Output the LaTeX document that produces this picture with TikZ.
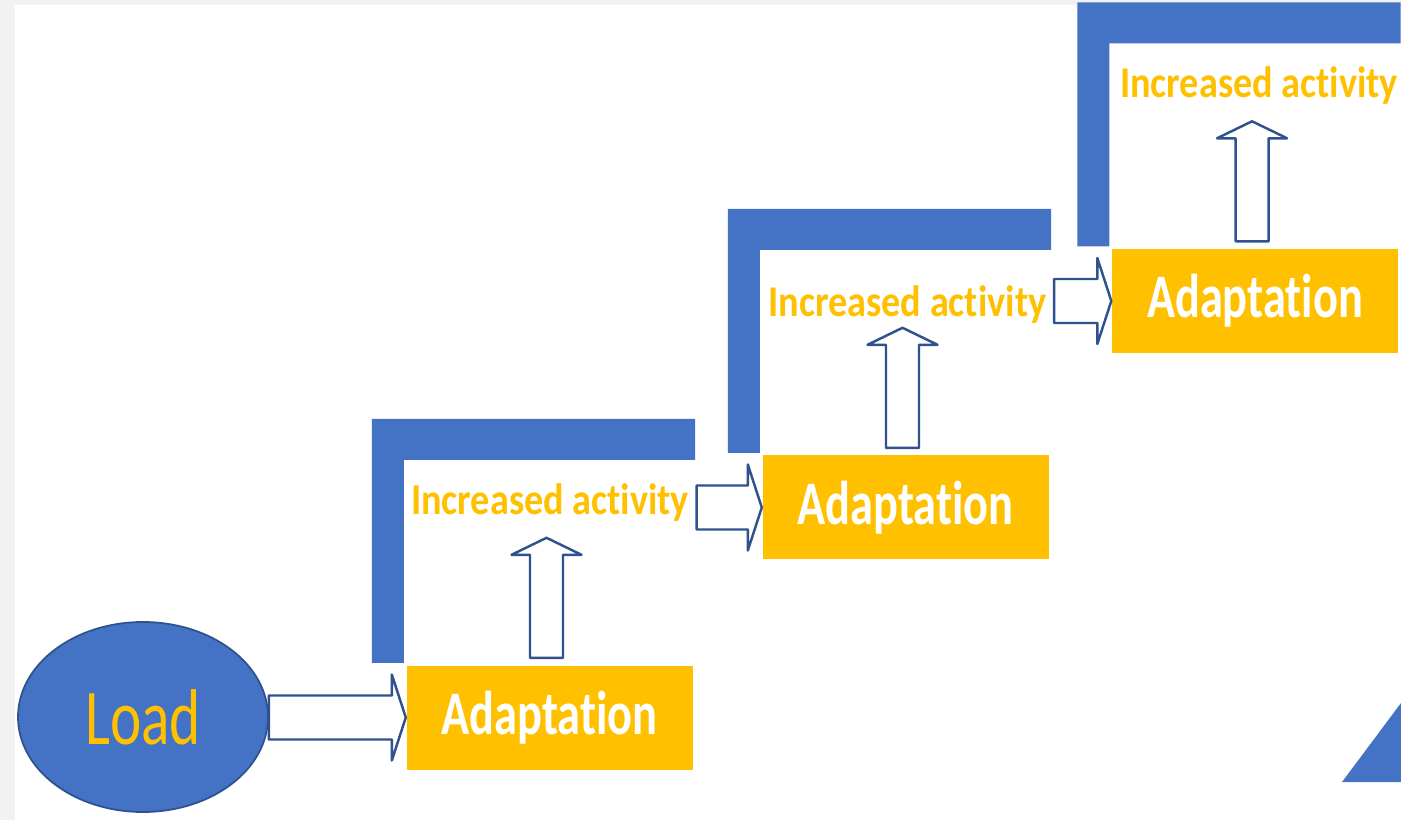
\documentclass[tikz,border=0pt]{standalone}
\usepackage{fontspec}
\newfontfamily\calfont[FakeStretch=0.75, Ligatures=NoCommon, RawFeature={-calt;-liga;-clig}]{Carlito}
\newfontfamily\actfont[FakeStretch=0.87, Ligatures=NoCommon, RawFeature={-calt;-liga;-clig}]{Carlito}
\usetikzlibrary{calc,shapes.geometric}
\definecolor{pblue}{HTML}{4472C4}
\definecolor{pyellow}{HTML}{FFC000}
\definecolor{pedge}{HTML}{2F528F}
\definecolor{pgray}{HTML}{F2F2F2}
\begin{document}
\begin{tikzpicture}[
  box/.style={rectangle, fill=pyellow, minimum width=2.86cm, minimum height=1.04cm,
    text=white, font=\calfont\bfseries\fontsize{17.6}{20}\selectfont},
  act/.style={text=pyellow, inner sep=2pt, anchor=base,
    font=\actfont\bfseries\fontsize{12.5}{15}\selectfont},
  rarrow/.style={draw=pedge, fill=white, line width=0.7pt, line join=round,
    to path={($(\tikztostart |- \tikztotarget)+(0,0.22)$) -- ($(\tikztotarget)+(-0.14,0.22)$)
      -- ($(\tikztotarget)+(-0.14,0.43)$) -- (\tikztotarget) -- ($(\tikztotarget)+(-0.14,-0.43)$)
      -- ($(\tikztotarget)+(-0.14,-0.22)$) -- ($(\tikztostart |- \tikztotarget)+(0,-0.22)$) -- cycle}},
  uarrow/.style={draw=pedge, fill=white, line width=0.7pt, line join=round,
    to path={($(\tikztostart -| \tikztotarget)+(-0.165,0.07)$) -- ($(\tikztotarget)+(-0.165,-0.17)$)
      -- ($(\tikztotarget)+(-0.35,-0.17)$) -- (\tikztotarget) -- ($(\tikztotarget)+(0.35,-0.17)$)
      -- ($(\tikztotarget)+(0.165,-0.17)$) -- ($(\tikztostart -| \tikztotarget)+(0.165,0.07)$) -- cycle}}]
\useasboundingbox (0,0) rectangle (14.01,8.20);
% Fundo cinza com a folha branca
\fill[pgray] (0,0) rectangle (14.01,8.20);
\fill[white] (0.15,0) rectangle (14.01,8.15);
% Carga inicial
\node[ellipse, fill=pblue, draw=pedge, line width=0.5pt, minimum width=2.5cm, minimum height=1.9cm,
  text=pyellow, font=\calfont\fontsize{22.5}{26}\selectfont] (load) at (1.43,1.03) {Load};
% Degraus de adaptacao
\node[box] (ad1) at (5.495,1.025) {Adaptation};
\node[box] (ad2) at (9.055,3.125) {Adaptation};
\node[box] (ad3) at (12.55,5.19) {Adaptation};
% Cantoneiras azuis sobre cada degrau
\foreach \a in {ad1,ad2,ad3} {
  \fill[pblue] ($(\a.north west)+(-0.34,0.02)$) -- ($(\a.north west)+(-0.34,2.46)$)
    -- ($(\a.north east)+(0.02,2.46)$) -- ($(\a.north east)+(0.02,2.05)$)
    -- ($(\a.north west)+(-0.02,2.05)$) -- ($(\a.north west)+(-0.02,0.02)$) -- cycle;
}
% Textos de atividade
\node[act] (act1) at (5.50,3.05) {Increased activity};
\node[act] (act2) at (9.075,5.03) {Increased activity};
\node[act] (act3) at (12.59,7.22) {Increased activity};
% Setas horizontais
\draw[rarrow] (load.east) to (ad1.west);
\draw[rarrow] (act1.east) to (ad2.west);
\draw[rarrow] (act2.east) to (ad3.west);
% Setas verticais
\coordinate (tip1) at ($(ad1.north)+(-0.03,1.27)$);
\coordinate (tip2) at ($(ad2.north)+(-0.03,1.27)$);
\coordinate (tip3) at ($(ad3.north)+(-0.03,1.27)$);
\draw[uarrow] (ad1.north) to (tip1);
\draw[uarrow] (ad2.north) to (tip2);
\draw[uarrow] (ad3.north) to (tip3);
% Canto azul inferior direito
\fill[pblue] (13.42,0.38) -- (14.01,1.17) -- (14.01,0.38) -- cycle;
\end{tikzpicture}
\end{document}
